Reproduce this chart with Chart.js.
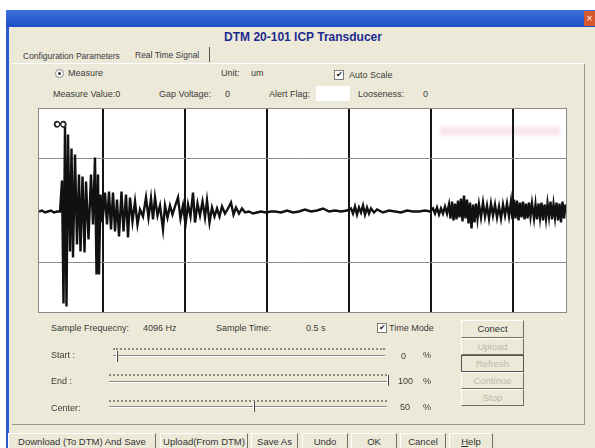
<!DOCTYPE html>
<html>
<head>
<meta charset="utf-8">
<script src="https://cdn.jsdelivr.net/npm/chart.js@4"></script>
<style>
  body { margin: 0; width: 595px; height: 448px; overflow: hidden; background: #fff;
         font-family: "Liberation Sans", Arial, sans-serif; font-size: 9px; color: #3b3b3b; position: relative; }
  .abs { position: absolute; white-space: nowrap; }
  .lbl { position: absolute; white-space: nowrap; line-height: 10px; }
  .btn { position: absolute; box-sizing: border-box; background: #ece9d8; text-align: center;
         border: 1px solid; border-color: #fff #716f64 #716f64 #fff; font-size: 9.5px; color: #333; }
  .dis { color: #bdb9aa; }
  .chk { position: absolute; width: 8px; height: 8px; border: 1px solid #7a7a7a; background: #fff;
         font-size: 8px; line-height: 8px; text-align: center; color: #222; }
  .ticks { position: absolute; height: 2px; border-top: 2px dotted #8c8a80; }
  .track { position: absolute; height: 0; border-top: 1px solid #8c8a80; border-bottom: 1px solid #fff; }
  .thumb { position: absolute; width: 1px; height: 11px; background: #444; border-left: 1px solid #fff; }
</style>
</head>
<body>
<div class="abs" style="left:6px;top:10px;width:589px;height:438px;background:#ece9d8;"></div>
<div class="abs" style="left:6px;top:10px;width:589px;height:17px;background:linear-gradient(#3c70dc,#1c4fc4);"></div>
<div class="abs" style="left:6px;top:27px;width:3px;height:421px;background:#2a5ccf;"></div>
<div class="abs" style="left:584px;top:11px;width:11px;height:15px;background:#d8582e;color:#fff;font-size:10px;line-height:15px;text-align:center;">×</div>

<div class="abs" style="left:0;width:606px;top:30px;text-align:center;font-size:12px;font-weight:bold;color:#1d2b8e;">DTM 20-101 ICP Transducer</div>

<div class="lbl" style="left:23px;top:51px;font-size:8.5px;">Configuration Parameters</div>
<div class="lbl" style="left:135px;top:50px;font-size:8.5px;">Real Time Signal</div>
<div class="abs" style="left:209px;top:47px;width:1px;height:15px;background:#555;"></div>
<div class="abs" style="left:12px;top:63px;width:572px;height:360px;border-top:1px solid #fff;border-right:1px solid #9a978a;border-bottom:1px solid #9a978a;"></div>

<div class="abs" style="left:55px;top:69px;width:7px;height:7px;border-radius:50%;border:1px solid #888;background:#fff;"></div>
<div class="abs" style="left:58px;top:72px;width:3px;height:3px;border-radius:50%;background:#333;"></div>
<div class="lbl" style="left:68px;top:68px;">Measure</div>
<div class="lbl" style="left:221px;top:68px;">Unit:</div>
<div class="lbl" style="left:251px;top:68px;">um</div>
<div class="chk" style="left:334px;top:70px;">✔</div>
<div class="lbl" style="left:349px;top:70px;">Auto Scale</div>

<div class="lbl" style="left:53px;top:89px;">Measure Value:0</div>
<div class="lbl" style="left:159px;top:89px;">Gap Voltage:</div>
<div class="lbl" style="left:225px;top:89px;">0</div>
<div class="lbl" style="left:269px;top:89px;">Alert Flag:</div>
<div class="abs" style="left:316px;top:86px;width:34px;height:15px;background:#fff;"></div>
<div class="lbl" style="left:358px;top:89px;">Looseness:</div>
<div class="lbl" style="left:423px;top:89px;">0</div>

<div class="abs" style="left:38px;top:108px;width:527px;height:203px;border:1px solid #8a8a8a;background:#fff;"></div>
<div class="abs" style="left:440px;top:127px;width:120px;height:8px;background:rgba(235,175,185,0.35);filter:blur(2px);"></div>
<div class="abs" style="left:39px;top:109px;width:527px;height:203px;">
  <canvas id="signal"></canvas>
</div>
<div class="abs" style="left:53px;top:113px;font-size:20px;font-weight:bold;color:#222;line-height:20px;">∞</div>

<div class="lbl" style="left:51px;top:323px;">Sample Frequecny:</div>
<div class="lbl" style="left:143px;top:323px;">4096 Hz</div>
<div class="lbl" style="left:216px;top:323px;">Sample Time:</div>
<div class="lbl" style="left:306px;top:323px;">0.5 s</div>
<div class="chk" style="left:377px;top:323px;">✔</div>
<div class="lbl" style="left:389px;top:323px;">Time Mode</div>

<div class="lbl" style="left:51px;top:350px;">Start :</div>
<div class="ticks" style="left:113px;top:348px;width:272px;"></div>
<div class="track" style="left:113px;top:355px;width:272px;"></div>
<div class="thumb" style="left:116px;top:351px;"></div>
<div class="lbl" style="left:401px;top:351px;">0</div>
<div class="lbl" style="left:423px;top:350px;">%</div>

<div class="lbl" style="left:51px;top:376px;">End :</div>
<div class="ticks" style="left:109px;top:374px;width:278px;"></div>
<div class="track" style="left:109px;top:381px;width:278px;"></div>
<div class="thumb" style="left:387px;top:375px;"></div>
<div class="lbl" style="left:398px;top:376px;">100</div>
<div class="lbl" style="left:423px;top:376px;">%</div>

<div class="lbl" style="left:51px;top:403px;">Center:</div>
<div class="ticks" style="left:109px;top:400px;width:278px;"></div>
<div class="track" style="left:109px;top:406px;width:278px;"></div>
<div class="thumb" style="left:253px;top:401px;"></div>
<div class="lbl" style="left:400px;top:402px;">50</div>
<div class="lbl" style="left:423px;top:402px;">%</div>

<div class="btn" style="left:461px;top:320px;width:63px;height:18px;line-height:16px;">Conect</div>
<div class="btn dis" style="left:461px;top:338px;width:63px;height:17px;line-height:15px;">Upload</div>
<div class="btn dis" style="left:461px;top:355px;width:63px;height:17px;line-height:15px;border:1px solid #555;">Refresh</div>
<div class="btn dis" style="left:461px;top:372px;width:63px;height:17px;line-height:15px;">Continue</div>
<div class="btn dis" style="left:461px;top:389px;width:63px;height:17px;line-height:15px;">Stop</div>

<div class="btn" style="left:8px;top:433px;width:148px;height:17px;line-height:15px;">Download (To DTM) And Save</div>
<div class="btn" style="left:160px;top:433px;width:88px;height:17px;line-height:15px;">Upload(From DTM)</div>
<div class="btn" style="left:251px;top:433px;width:47px;height:17px;line-height:15px;">Save As</div>
<div class="btn" style="left:302px;top:433px;width:46px;height:17px;line-height:15px;">Undo</div>
<div class="btn" style="left:351px;top:433px;width:46px;height:17px;line-height:15px;">OK</div>
<div class="btn" style="left:400px;top:433px;width:46px;height:17px;line-height:15px;">Cancel</div>
<div class="btn" style="left:449px;top:433px;width:44px;height:17px;line-height:15px;"><u>H</u>elp</div>

<script>
// signal trace: position across the window (0..528) and amplitude (um)
const samplePos = [
  1, 4, 7, 10, 13, 16, 19, 22,
  24, 25.5, 27, 28.5, 30, 32, 33.5, 35, 37, 39, 41, 42.5, 44.5, 46.5, 48, 50.5, 53, 55, 57, 58.5, 60, 61, 62.5,
  64.5, 67, 69, 71, 73, 75, 77, 79, 81, 83.5, 85.5, 88, 90, 92, 94.5, 97, 99.5, 102, 105, 108, 110.5, 113, 115,
  117, 119.5, 122, 125, 127, 129.5, 132, 134.5, 137, 140, 142.5, 145, 147.5, 150, 152.5, 155, 157, 159.5, 162,
  164.5, 167, 169, 171.5, 174, 176.5, 179, 181.5, 184, 187, 190, 193, 195.5, 198, 201, 204, 207, 211, 215, 219,
  223, 228, 233, 237, 243, 249, 255, 261, 267, 273, 279, 285, 291, 297, 303, 309,
  313, 315, 317, 319, 321, 323, 325, 327, 329, 331, 333, 336, 339,
  345, 351, 357, 363, 369, 375, 381, 387, 392,
  395, 397, 399, 401, 403, 405, 407, 409,
  411, 412.5, 414, 415.5, 417, 418.5, 420, 421.5, 423, 424.5, 426, 427.5, 429, 430.5, 432, 433.5, 435, 436.5, 438, 439.5,
  441, 443, 445, 447, 449, 451, 453, 455, 457, 459, 461, 463, 465, 467, 469, 471,
  473, 474.5, 476, 477.5, 479, 480.5, 482, 483.5, 485, 486.5, 488, 489.5, 491, 492.5, 494,
  496, 497.5, 499, 500.5, 502, 503.5, 505, 506.5, 508, 509.5, 511, 512.5, 514, 515.5, 517, 518.5, 520, 521.5, 523, 524.5, 526, 527.5
];
const amplitude = [
  -1, 0, -2, -1, 0, -2, -1, -1,
  30, -93, 84, -96, 76, -41, 62, -47, 56, -34, 36, -41, 34, -42, 29, -29, 36, -14, 53, -64, 36, -64, 16,
  -12, 18, -14, 19, -19, 18, -21, 11, -26, 19, -21, 16, -27, 13, -11, 9, -14, 1, -6, 13, -7, 12, -9,
  13, -5, 5, -19, 5, -7, 5, -4, 4, 13, -8, 5, -14, 6, -6, 18, -12, 7, -5,
  9, -7, 10, -12, 3, -6, 2, -6, 4, -3, 2, 8, -4, 3, -3, 2, -2, -1, -3, -2,
  -1, -2, -1, -1, -2, 0, -2, -1, 1, -1, 0, 2, -1, 0, -1, 0,
  2, -3, 4, -4, 3, -2, 5, -4, 3, -3, 2, -2, 1,
  -2, 0, -1, -2, 0, -1, -1, 0, -1,
  2, -3, 3, -4, 2, -3, 4, -3,
  6, -8, 9, -10, 7, -9, 10, -7, 12, -11, 15, -8, 11, -13, 8, -18, 6, -12, 7, -8,
  6, -7, 8, -6, 5, -8, 7, -5, 6, -7, 4, -8, 6, -5, 7, -6,
  9, -9, 11, -8, 10, -10, 8, -7, 9, -9, 7, -8, 8, -6, 7,
  -8, 6, -9, 7, -7, 8, -10, 6, -8, 7, -6, 9, -9, 6, -7, 8, -10, 7, -12, 9, -8, 6
];
// grid divisions
const gridPos = [65, 147, 229, 311, 393, 475];
const gridLevels = [-52, 52];

const points = samplePos.map((x, i) => ({ x: x, y: amplitude[i] }));

new Chart(document.getElementById('signal'), {
  type: 'line',
  data: {
    datasets: [{
      data: points,
      borderColor: '#111',
      borderWidth: 2.4,
      pointRadius: 0,
      tension: 0
    }]
  },
  options: {
    responsive: true,
    maintainAspectRatio: false,
    animation: false,
    layout: { padding: 0 },
    plugins: { legend: { display: false }, tooltip: { enabled: false } },
    scales: {
      x: {
        type: 'linear', min: 1, max: 528,
        afterBuildTicks: (s) => { s.ticks = gridPos.map(v => ({ value: v })); },
        ticks: { display: false },
        grid: { color: '#151515', lineWidth: 2, drawTicks: false },
        border: { display: false }
      },
      y: {
        min: -101.5, max: 101.5,
        afterBuildTicks: (s) => { s.ticks = gridLevels.map(v => ({ value: v })); },
        ticks: { display: false },
        grid: { color: '#8d8d8d', lineWidth: 1, drawTicks: false },
        border: { display: false }
      }
    }
  }
});
</script>
</body>
</html>
